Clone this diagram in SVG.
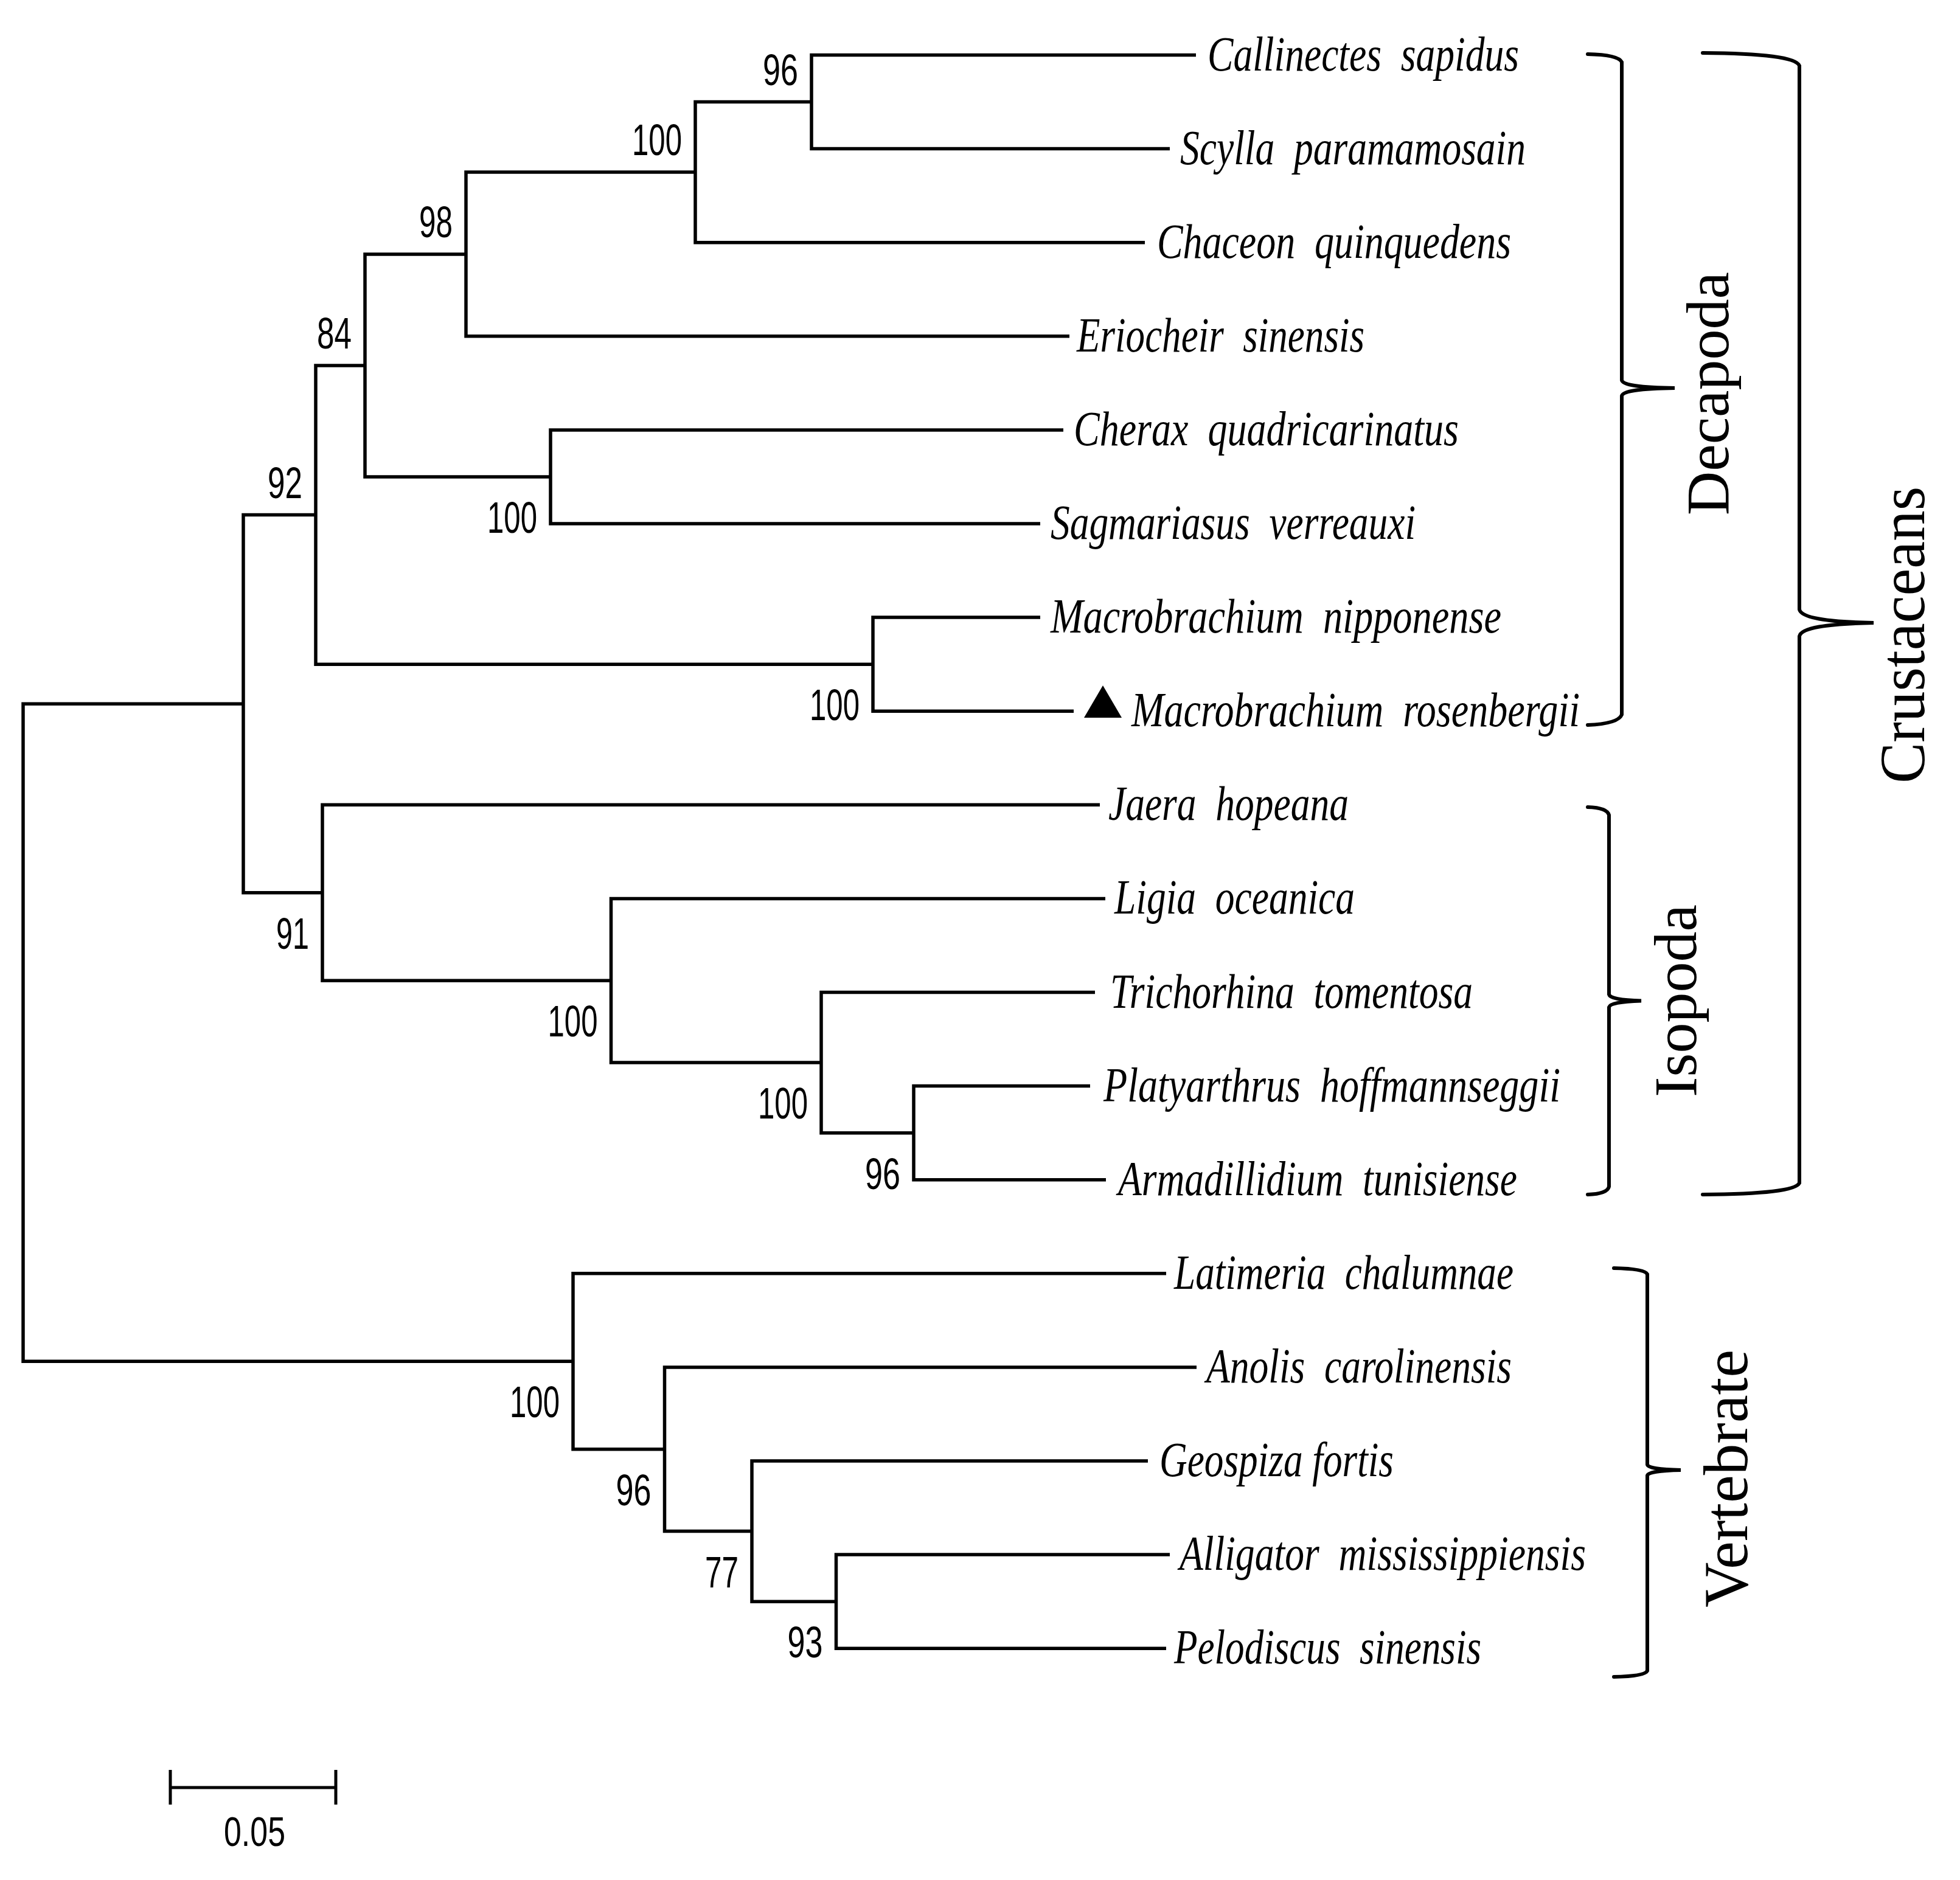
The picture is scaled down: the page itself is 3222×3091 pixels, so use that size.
<svg xmlns="http://www.w3.org/2000/svg" width="3222" height="3091" viewBox="0 0 3222 3091">
<style>
.br{fill:none;stroke:#000;stroke-width:5.5;stroke-linejoin:miter}
.bs{font-family:"Liberation Sans",Arial,sans-serif;font-size:73px;fill:#000;text-anchor:end}
.sp{font-family:"Liberation Serif","Times New Roman",serif;font-style:italic;font-size:80px;fill:#000;white-space:pre}
.brace{fill:none;stroke:#000;stroke-width:6;stroke-linecap:round}
.grp{font-family:"Liberation Serif","Times New Roman",serif;font-size:100px;fill:#000;text-anchor:middle}
</style>
<rect width="3222" height="3091" fill="#fff"/>
<g id="connectors">
<path class="br" d="M1966,90.5 H1334 V244.6 H1923"/>
<path class="br" d="M1334,167.55 H1143 V398.7 H1882"/>
<path class="br" d="M1143,283.1 H766 V552.8 H1758"/>
<path class="br" d="M1748,706.9 H905 V861 H1710"/>
<path class="br" d="M766,418 H600 V783.95 H905"/>
<path class="br" d="M1710,1015.1 H1435 V1169.2 H1765"/>
<path class="br" d="M600,601 H519 V1092.15 H1435"/>
<path class="br" d="M1792,1785.6 H1502 V1939.7 H1818"/>
<path class="br" d="M1800,1631.5 H1350 V1862.65 H1502"/>
<path class="br" d="M1817,1477.4 H1004.5 V1747.1 H1350"/>
<path class="br" d="M1808,1323.3 H530 V1612.25 H1004.5"/>
<path class="br" d="M519,846.6 H400 V1467.8 H530"/>
<path class="br" d="M1923,2556.1 H1374.5 V2710.2 H1917"/>
<path class="br" d="M1887,2402 H1236 V2633.15 H1374.5"/>
<path class="br" d="M1967,2247.9 H1092.5 V2517.6 H1236"/>
<path class="br" d="M1917,2093.8 H942 V2382.75 H1092.5"/>
<path class="br" d="M400,1157.2 H38 V2238.3 H942"/>
</g>
<g id="bootstrap">
<text class="bs" x="1312" y="139.5" textLength="58" lengthAdjust="spacingAndGlyphs">96</text>
<text class="bs" x="1121" y="255" textLength="82" lengthAdjust="spacingAndGlyphs">100</text>
<text class="bs" x="744" y="390" textLength="55" lengthAdjust="spacingAndGlyphs">98</text>
<text class="bs" x="578" y="573" textLength="57" lengthAdjust="spacingAndGlyphs">84</text>
<text class="bs" x="883" y="876" textLength="82" lengthAdjust="spacingAndGlyphs">100</text>
<text class="bs" x="497" y="818.6" textLength="57" lengthAdjust="spacingAndGlyphs">92</text>
<text class="bs" x="1413" y="1184" textLength="82" lengthAdjust="spacingAndGlyphs">100</text>
<text class="bs" x="508" y="1560" textLength="54" lengthAdjust="spacingAndGlyphs">91</text>
<text class="bs" x="982.5" y="1704" textLength="82" lengthAdjust="spacingAndGlyphs">100</text>
<text class="bs" x="1328" y="1839" textLength="82" lengthAdjust="spacingAndGlyphs">100</text>
<text class="bs" x="1480" y="1955" textLength="58" lengthAdjust="spacingAndGlyphs">96</text>
<text class="bs" x="920" y="2330" textLength="82" lengthAdjust="spacingAndGlyphs">100</text>
<text class="bs" x="1070.5" y="2475" textLength="58" lengthAdjust="spacingAndGlyphs">96</text>
<text class="bs" x="1214" y="2610" textLength="55" lengthAdjust="spacingAndGlyphs">77</text>
<text class="bs" x="1352.5" y="2725" textLength="58" lengthAdjust="spacingAndGlyphs">93</text>
</g>
<g id="leaf-callinectes"><text class="sp" x="1985" y="115.5" textLength="512" lengthAdjust="spacingAndGlyphs">Callinectes  sapidus</text></g>
<g id="leaf-scylla"><text class="sp" x="1940" y="269.6" textLength="568" lengthAdjust="spacingAndGlyphs">Scylla  paramamosain</text></g>
<g id="leaf-chaceon"><text class="sp" x="1902" y="423.7" textLength="582" lengthAdjust="spacingAndGlyphs">Chaceon  quinquedens</text></g>
<g id="leaf-eriocheir"><text class="sp" x="1770" y="577.8" textLength="473" lengthAdjust="spacingAndGlyphs">Eriocheir  sinensis</text></g>
<g id="leaf-cherax"><text class="sp" x="1765" y="731.9" textLength="633" lengthAdjust="spacingAndGlyphs">Cherax  quadricarinatus</text></g>
<g id="leaf-sagmariasus"><text class="sp" x="1727" y="886" textLength="600" lengthAdjust="spacingAndGlyphs">Sagmariasus  verreauxi</text></g>
<g id="leaf-mnipponense"><text class="sp" x="1727" y="1040.1" textLength="741" lengthAdjust="spacingAndGlyphs">Macrobrachium  nipponense</text></g>
<g id="leaf-mrosenbergii">
<polygon points="1782,1180 1844,1180 1813,1127" fill="#000"/>
<text class="sp" x="1860" y="1194.2" textLength="737" lengthAdjust="spacingAndGlyphs">Macrobrachium  rosenbergii</text></g>
<g id="leaf-jaera"><text class="sp" x="1822" y="1348.3" textLength="395" lengthAdjust="spacingAndGlyphs">Jaera  hopeana</text></g>
<g id="leaf-ligia"><text class="sp" x="1832" y="1502.4" textLength="395" lengthAdjust="spacingAndGlyphs">Ligia  oceanica</text></g>
<g id="leaf-trichorhina"><text class="sp" x="1825" y="1656.5" textLength="596" lengthAdjust="spacingAndGlyphs">Trichorhina  tomentosa</text></g>
<g id="leaf-platyarthrus"><text class="sp" x="1814" y="1810.6" textLength="751" lengthAdjust="spacingAndGlyphs">Platyarthrus  hoffmannseggii</text></g>
<g id="leaf-armadillidium"><text class="sp" x="1838" y="1964.7" textLength="656" lengthAdjust="spacingAndGlyphs">Armadillidium  tunisiense</text></g>
<g id="leaf-latimeria"><text class="sp" x="1930" y="2118.8" textLength="558" lengthAdjust="spacingAndGlyphs">Latimeria  chalumnae</text></g>
<g id="leaf-anolis"><text class="sp" x="1983" y="2272.9" textLength="502" lengthAdjust="spacingAndGlyphs">Anolis  carolinensis</text></g>
<g id="leaf-geospiza"><text class="sp" x="1906" y="2427" textLength="385" lengthAdjust="spacingAndGlyphs">Geospiza fortis</text></g>
<g id="leaf-alligator"><text class="sp" x="1939" y="2581.1" textLength="668" lengthAdjust="spacingAndGlyphs">Alligator  mississippiensis</text></g>
<g id="leaf-pelodiscus"><text class="sp" x="1930" y="2735.2" textLength="505" lengthAdjust="spacingAndGlyphs">Pelodiscus  sinensis</text></g>
<g id="group-decapoda">
<path class="brace" d="M2610,89 Q2660,90 2666,102 V625 Q2668,637 2753,638 Q2668,639 2666,651 V1175 Q2660,1190 2610,1192"/>
<text class="grp" transform="translate(2841,647) rotate(-90)">Decapoda</text>
</g>
<g id="group-isopoda">
<path class="brace" d="M2610,1327 Q2642,1328 2645,1340 V1635 Q2647,1644 2698,1645.5 Q2647,1647 2645,1656 V1951 Q2642,1963 2610,1964"/>
<text class="grp" transform="translate(2788,1645.5) rotate(-90)">Isopoda</text>
</g>
<g id="group-crustaceans">
<path class="brace" d="M2799,87 Q2950,88 2958,108 V1002 Q2962,1022 3080,1024 Q2962,1026 2958,1046 V1945 Q2950,1963 2799,1964"/>
<text class="grp" style="font-size:106px" transform="translate(3163,1044) rotate(-90)" textLength="488" lengthAdjust="spacingAndGlyphs">Crustaceans</text>
</g>
<g id="group-vertebrate">
<path class="brace" d="M2653,2085 Q2704,2086 2708,2095 V2408 Q2710,2416 2763,2417 Q2710,2418 2708,2426 V2747 Q2704,2756 2653,2757"/>
<text class="grp" style="font-size:104px" transform="translate(2872,2431) rotate(-90)" textLength="424" lengthAdjust="spacingAndGlyphs">Vertebrate</text>
</g>
<g id="scale-bar">
<path class="br" style="stroke-width:5" d="M280,2939 H552 M280,2910 V2967 M552,2910 V2967"/>
<text x="418.5" y="3035" style="font-family:'Liberation Sans',Arial,sans-serif;font-size:68px;text-anchor:middle" textLength="101" lengthAdjust="spacingAndGlyphs">0.05</text>
</g>
</svg>
